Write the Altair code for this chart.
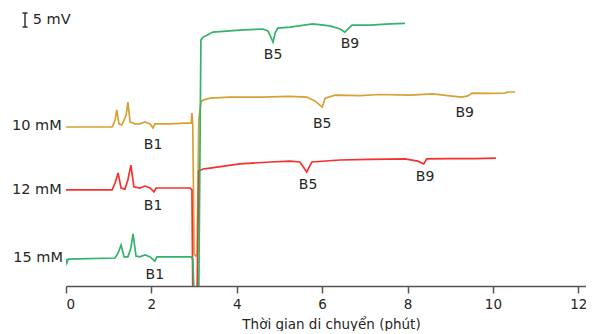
import altair as alt
import pandas as pd

# ---- data (time in min, signal in mV, traces offset vertically) ----
t_10 = [0, 1.08, 1.15, 1.19, 1.24, 1.31, 1.41, 1.45, 1.50, 1.62, 1.73, 1.85, 1.97, 2.04, 2.08, 2.44, 2.79, 2.93, 2.95, 2.97,
        3.00, 3.04, 3.07, 3.11, 3.16, 3.21, 3.37, 3.84, 4.54, 5.25, 5.64, 5.83, 6.00, 6.07, 6.30, 6.89, 7.35, 8.06, 8.59,
        8.99, 9.27, 9.41, 9.51, 9.93, 10.28, 10.35, 10.52]
v_10 = [56.8, 56.8, 59.3, 62.9, 57.9, 57.5, 61.1, 65.7, 58.6, 57.9, 57.9, 58.6, 57.9, 56.4, 57.9, 57.9, 58.2, 58.2, 61.8, 57.5,
        11.4, 10.7, 11.4, 59.3, 65.7, 66.4, 67.1, 67.5, 67.5, 67.7, 67.5, 66.1, 63.9, 67.1, 68.2, 68.0, 68.4, 68.2, 68.6,
        67.9, 67.5, 67.9, 68.9, 68.8, 68.9, 69.3, 69.3]

t_12 = [0, 1.08, 1.15, 1.22, 1.29, 1.38, 1.45, 1.52, 1.59, 1.73, 1.85, 1.97, 2.06, 2.11, 2.55, 2.90, 2.95, 2.97, 3.07,
        3.11, 3.21, 3.37, 4.07, 4.78, 5.25, 5.48, 5.64, 5.71, 5.76, 6.42, 7.12, 7.94, 8.24, 8.38, 8.45, 8.99, 9.58, 10.07]
v_12 = [34.3, 34.3, 36.8, 40.4, 35.0, 34.6, 37.9, 43.2, 35.4, 35.0, 35.7, 35.0, 33.6, 35.0, 35.0, 35.0, 34.3, -3, -3,
        41.1, 41.8, 42.1, 43.6, 44.3, 44.6, 44.3, 40.7, 42.9, 44.3, 45.0, 45.2, 45.4, 44.6, 43.6, 45.4, 45.5, 45.5, 45.7]

t_15 = [0, 0.02, 0.05, 1.15, 1.22, 1.29, 1.36, 1.45, 1.52, 1.57, 1.64, 1.73, 1.85, 1.97, 2.08, 2.13, 2.55, 2.93, 2.97,
        3.00, 3.11, 3.16, 3.21, 3.30, 3.44, 4.07, 4.61, 4.73, 4.85, 4.90, 4.96, 5.25, 5.78, 6.18, 6.42, 6.53, 6.65, 6.70,
        7.12, 7.59, 7.94]
v_15 = [9.6, 8.2, 9.6, 10.0, 11.8, 14.6, 10.4, 10.4, 13.6, 18.6, 10.7, 10.4, 11.1, 10.4, 8.9, 10.4, 10.4, 10.4, 9.6,
        -3, -3, 87.9, 88.9, 89.6, 90.7, 91.4, 91.8, 91.1, 87.1, 90.4, 92.1, 92.5, 93.6, 92.9, 91.8, 90.7, 92.5, 93.2,
        93.2, 93.6, 93.8]

series_names = ["10 mM", "12 mM", "15 mM"]
series_colors = ["#D9A035", "#F4312E", "#33B36C"]

# series labels (left of the traces)
label_t = [-0.10, -0.10, -0.07]
label_v = [57.1, 34.3, 10.0]

# peak labels
peak_text = ["B1", "B1", "B1", "B5", "B9", "B5", "B9", "B5", "B9"]
peak_t = [2.04, 2.04, 2.08, 4.85, 6.65, 6.00, 9.34, 5.67, 8.41]
peak_v = [50.4, 28.6, 3.9, 82.5, 86.4, 57.9, 61.8, 36.1, 38.9]

# scale bar (5 mV)
bar_t = [-0.96]
bar_v1 = [92.5]
bar_v2 = [97.5]
bar_text = ["5 mV"]
bar_text_t = [-0.78]
bar_text_v = [95.0]

x_ticks = [0, 2, 4, 6, 8, 10, 12]

rows = []
for name, ts, vs in zip(series_names, [t_10, t_12, t_15], [v_10, v_12, v_15]):
    for i, (t, v) in enumerate(zip(ts, vs)):
        rows.append({"series": name, "t": t, "v": v, "order": i})
df = pd.DataFrame(rows)

xs = alt.Scale(domain=[0, 12.18], nice=False, zero=False)
ys = alt.Scale(domain=[0, 99.3], nice=False, zero=False)
TXT = "#262626"
FONT = "DejaVu Sans"

lines = alt.Chart(df).mark_line(strokeWidth=1.7, clip=True).encode(
    x=alt.X("t:Q", scale=xs, axis=alt.Axis(
        values=x_ticks, title="Thời gian di chuyển (phút)", grid=False,
        domainColor="#555555", domainWidth=1.5, tickColor="#555555", tickWidth=1.5, tickSize=7,
        labelFontSize=13.5, labelColor=TXT, labelFont=FONT, labelPadding=4,
        titleFontSize=13.5, titleColor=TXT, titleFont=FONT, titleFontWeight="normal", titlePadding=7,
        titleX=265)),
    y=alt.Y("v:Q", scale=ys, axis=None),
    color=alt.Color("series:N", scale=alt.Scale(domain=series_names, range=series_colors), legend=None),
    detail="series:N",
    order="order:Q",
)

lab_df = pd.DataFrame({"text": series_names, "t": label_t, "v": label_v})
labels = alt.Chart(lab_df).mark_text(align="right", baseline="middle", fontSize=14.5, font=FONT, color=TXT).encode(
    x=alt.X("t:Q", scale=xs), y=alt.Y("v:Q", scale=ys), text="text:N")

pk_df = pd.DataFrame({"text": peak_text, "t": peak_t, "v": peak_v})
peaks = alt.Chart(pk_df).mark_text(align="center", baseline="middle", fontSize=14, font=FONT, color=TXT).encode(
    x=alt.X("t:Q", scale=xs), y=alt.Y("v:Q", scale=ys), text="text:N")

bar_df = pd.DataFrame({"t": bar_t, "v1": bar_v1, "v2": bar_v2,
                       "tl": [bar_t[0] - 0.06], "tr": [bar_t[0] + 0.06]})
bar = alt.Chart(bar_df).mark_rule(color="#333333", strokeWidth=1.5).encode(
    x=alt.X("t:Q", scale=xs), y=alt.Y("v1:Q", scale=ys), y2="v2:Q")
cap1 = alt.Chart(bar_df).mark_rule(color="#333333", strokeWidth=1.5).encode(
    x=alt.X("tl:Q", scale=xs), x2="tr:Q", y=alt.Y("v1:Q", scale=ys))
cap2 = alt.Chart(bar_df).mark_rule(color="#333333", strokeWidth=1.5).encode(
    x=alt.X("tl:Q", scale=xs), x2="tr:Q", y=alt.Y("v2:Q", scale=ys))

bt_df = pd.DataFrame({"text": bar_text, "t": bar_text_t, "v": bar_text_v})
bar_lbl = alt.Chart(bt_df).mark_text(align="left", baseline="middle", fontSize=14.5, font=FONT, color=TXT).encode(
    x=alt.X("t:Q", scale=xs), y=alt.Y("v:Q", scale=ys), text="text:N")

chart = alt.layer(lines, labels, peaks, bar, cap1, cap2, bar_lbl).properties(
    width=520, height=278,
    autosize=alt.AutoSizeParams(type="none"),
    padding={"left": 58, "top": 0, "right": 0, "bottom": 45},
    background="white",
).configure_view(stroke=None)

chart.save("out.html", embed_options={"renderer": "svg", "actions": False})
